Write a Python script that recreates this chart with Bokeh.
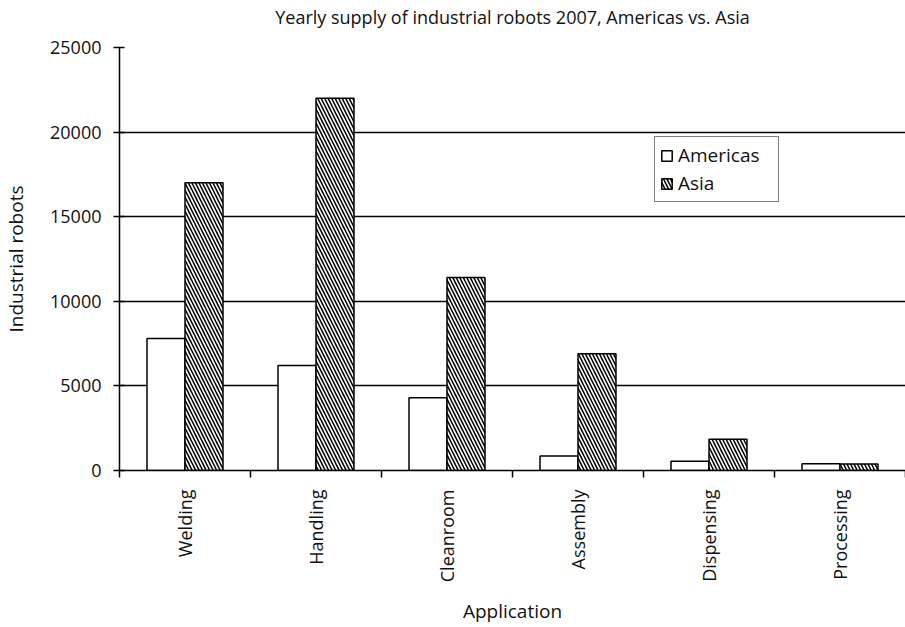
from bokeh.plotting import figure
from bokeh.models import (ColumnDataSource, FixedTicker, Range1d, Legend,
                          LegendItem, Title)
from bokeh.embed import file_html
from bokeh.resources import INLINE

# Yearly supply of industrial robots, 2007
applications = ["Welding", "Handling", "Cleanroom", "Assembly", "Dispensing", "Processing"]
americas = [7800, 6200, 4300, 850, 550, 400]
asia = [17000, 22000, 11400, 6900, 1850, 380]
y_ticks = [0, 5000, 10000, 15000, 20000, 25000]
title_text = "Yearly supply of industrial robots 2007, Americas vs. Asia"

FONT = "Open Sans"
INK = "#111111"

idx = list(range(len(applications)))
src = ColumnDataSource(dict(
    x_am=[i + 0.5 - 0.145 for i in idx],
    x_as=[i + 0.5 + 0.145 for i in idx],
    americas=americas,
    asia=asia,
))

p = figure(width=905, height=627, output_backend="svg", toolbar_location=None,
           x_range=Range1d(0, len(applications)), y_range=Range1d(0, max(y_ticks)),
           min_border_left=119, min_border_right=0, min_border_top=47,
           min_border_bottom=157, background_fill_color="white",
           border_fill_color="white", outline_line_color=None)

# a thin blank strip between the plot area and the heading lifts the heading up
p.add_layout(Title(text=" ", text_font_size="2px", standoff=9), "above")
p.title = Title(text=title_text, align="center", vertical_align="top",
                text_font=FONT, text_font_size="18px", text_font_style="normal",
                text_color=INK, standoff=8)

r_am = p.vbar(x="x_am", top="americas", width=0.29, source=src,
              fill_color="white", line_color="black", line_width=1.5)
r_as = p.vbar(x="x_as", top="asia", width=0.29, source=src,
              fill_color="white", line_color="black", line_width=1.5,
              hatch_pattern="left_diagonal_line", hatch_color="black",
              hatch_scale=7, hatch_weight=1.5)

# x axis: names at category centres, tick marks at category boundaries
p.xaxis.ticker = FixedTicker(ticks=[i + 0.5 for i in idx],
                             minor_ticks=list(range(len(applications) + 1)))
p.xaxis.major_label_overrides = {i + 0.5: name for i, name in zip(idx, applications)}
p.xaxis.major_label_orientation = 1.5708
p.xaxis.major_tick_out = 0
p.xaxis.major_tick_in = 0
p.xaxis.minor_tick_out = 7
p.xaxis.minor_tick_in = 0
p.xaxis.minor_tick_line_color = "black"
p.xaxis.minor_tick_line_width = 1.5
p.xaxis.major_label_standoff = 12
p.xaxis.axis_label = "Application"
p.xaxis.axis_label_standoff = 13

p.yaxis.ticker = FixedTicker(ticks=y_ticks)
p.yaxis.major_tick_out = 6
p.yaxis.major_tick_in = 5
p.yaxis.minor_tick_out = 0
p.yaxis.minor_tick_in = 0
p.yaxis.major_label_standoff = 12
p.yaxis.axis_label = "Industrial robots"
p.yaxis.axis_label_standoff = 18

for ax in (p.xaxis[0], p.yaxis[0]):
    ax.axis_line_color = "black"
    ax.axis_line_width = 1.5
    ax.major_tick_line_color = "black"
    ax.major_tick_line_width = 1.5
    ax.major_label_text_font = FONT
    ax.major_label_text_font_size = "18px"
    ax.major_label_text_color = INK
    ax.axis_label_text_font = FONT
    ax.axis_label_text_font_size = "19px"
    ax.axis_label_text_font_style = "normal"
    ax.axis_label_text_color = INK

p.xgrid.grid_line_color = None
p.ygrid.ticker = FixedTicker(ticks=y_ticks[1:])
p.ygrid.grid_line_color = "black"
p.ygrid.grid_line_width = 1.5
p.ygrid.grid_line_alpha = 1.0

legend = Legend(items=[LegendItem(label="Americas", renderers=[r_am]),
                       LegendItem(label="Asia", renderers=[r_as])],
                location=(535, 268), border_line_color="black",
                border_line_width=1.2, background_fill_color="white",
                background_fill_alpha=1.0, label_text_font=FONT,
                label_text_font_size="19px", label_text_color=INK,
                glyph_width=13, glyph_height=13, spacing=2, padding=5,
                margin=0, label_standoff=5, label_height=22, label_width=95)
p.add_layout(legend, "center")

open("out.html", "w").write(file_html(p, INLINE))
